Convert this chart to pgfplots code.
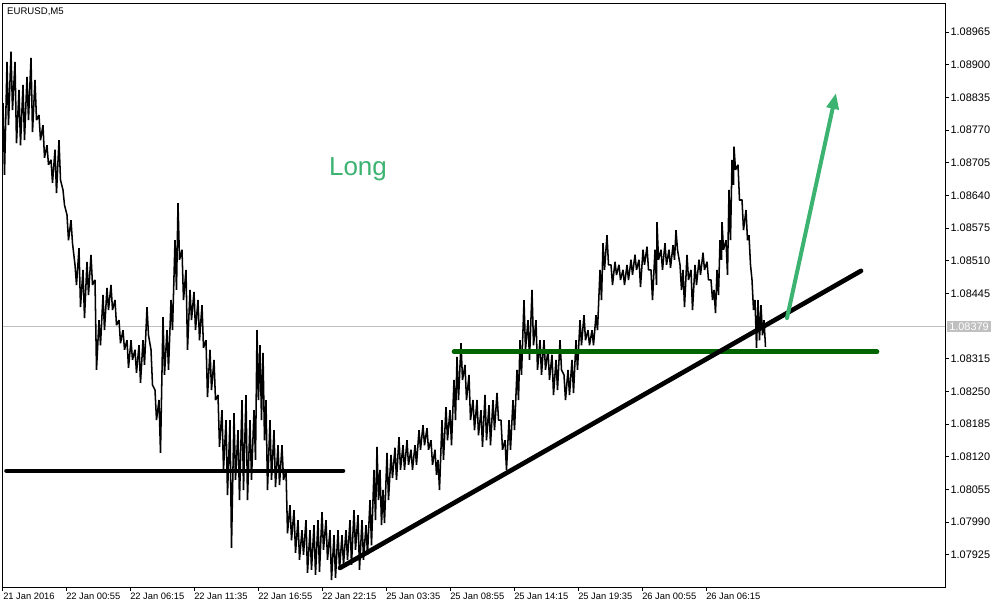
\documentclass[border=0pt]{standalone}
\usepackage{pgfplots}
\pgfplotsset{compat=1.18}
\usepackage{fontspec}
\setmainfont{Liberation Sans}
\usetikzlibrary{arrows.meta}
\definecolor{lgreen}{RGB}{60,179,113}
\definecolor{dgreen}{RGB}{0,100,0}
\definecolor{pgray}{RGB}{192,192,192}
\begin{document}
\begin{tikzpicture}
\fill[white] (-2.25pt,-15.75pt) rectangle (746.25pt,440.25pt);
\path[use as bounding box] (-2.25pt,-15.75pt) rectangle (746.25pt,440.25pt);
\begin{axis}[
  at={(0pt,0pt)}, anchor=south west,
  scale only axis, width=706.5pt, height=438pt,
  xmin=3, xmax=945, ymin=1.07861, ymax=1.09023,
  clip=false,
  axis line style={black, line width=0.75pt},
  tick align=outside,
  major tick length=3pt,
  tick style={black, line width=0.75pt},
  xtick pos=bottom,
  ytick pos=right,
  yticklabel pos=right,
  scaled y ticks=false,
  xtick={3,66,130,194,258,322,386,450,514,578,642,706},
  xticklabels={21 Jan 2016,22 Jan 00:55,22 Jan 06:15,22 Jan 11:35,22 Jan 16:55,22 Jan 22:15,25 Jan 03:35,25 Jan 08:55,25 Jan 14:15,25 Jan 19:35,26 Jan 00:55,26 Jan 06:15},
  ytick={1.07925,1.07990,1.08055,1.08120,1.08185,1.08250,1.08315,1.08445,1.08510,1.08575,1.08640,1.08705,1.08770,1.08835,1.08900,1.08965},
  xticklabel style={anchor=north west, inner sep=0pt, yshift=-1.5pt, font=\fontsize{7}{8}\selectfont},
  yticklabel style={anchor=west, inner sep=0pt, xshift=1pt, font=\fontsize{8.2}{9}\selectfont,
    /pgf/number format/.cd, fixed, fixed zerofill, precision=5, assume math mode=true, /tikz/.cd},
]
\addplot[pgray, line width=0.75pt] coordinates {(3,1.08379) (945,1.08379)};
\addplot[black, line width=1.15pt, line join=bevel] table {
x y
3 1.08824
4.5 1.08681
7 1.08906
8.5 1.08780
11 1.08926
12.5 1.08810
15 1.08906
16.5 1.08744
19 1.08850
20.5 1.08740
23 1.08860
24.5 1.08750
27 1.08876
28.5 1.08790
31 1.08914
32.5 1.08766
35 1.08870
36.5 1.08790
39 1.08800
40.5 1.08750
43 1.08780
44.5 1.08715
47 1.08740
48.5 1.08701
51 1.08711
52.5 1.08665
55 1.08731
56.5 1.08645
59 1.08750
60.5 1.08671
63 1.08651
64.5 1.08621
67 1.08601
68.5 1.08551
71 1.08591
72.5 1.08545
75 1.08502
76.5 1.08462
79 1.08535
80.5 1.08418
83 1.08492
84.5 1.08396
87 1.08508
88.5 1.08442
91 1.08522
92.5 1.08462
95 1.08472
96.5 1.08293
99 1.08392
100.5 1.08342
103 1.08442
104.5 1.08372
107 1.08456
108.5 1.08412
111 1.08462
112.5 1.08412
115 1.08432
116.5 1.08382
119 1.08392
120.5 1.08346
123 1.08372
124.5 1.08333
127 1.08352
128.5 1.08297
131 1.08352
132.5 1.08313
135 1.08333
136.5 1.08287
139 1.08342
140.5 1.08267
143 1.08352
144.5 1.08303
147 1.08418
148.5 1.08362
151 1.08333
152.5 1.08263
155 1.08253
156.5 1.08193
159 1.08233
160.5 1.08128
163 1.08398
164.5 1.08283
167 1.08372
168.5 1.08293
171 1.08432
172.5 1.08372
175 1.08551
176.5 1.08452
178 1.08625
179.5 1.08512
182 1.08532
183.5 1.08432
186 1.08492
187.5 1.08333
190 1.08452
191.5 1.08392
194 1.08448
195.5 1.08372
198 1.08432
199.5 1.08352
202 1.08422
203.5 1.08337
206 1.08352
207.5 1.08239
210 1.08333
211.5 1.08253
214 1.08313
215.5 1.08233
218 1.08243
219.5 1.08140
222 1.08213
223.5 1.08094
226 1.08193
227.5 1.08044
230 1.08193
231.5 1.07939
234 1.08207
235.5 1.08074
238 1.08173
239.5 1.08034
242 1.08233
243.5 1.08054
246 1.08243
247.5 1.08034
250 1.08193
251.5 1.08074
254 1.08213
255.5 1.08114
257 1.08372
258.5 1.08233
260 1.08342
261.5 1.08193
263 1.08327
264.5 1.08153
266 1.08233
267.5 1.08054
270 1.08193
271.5 1.08074
274 1.08173
275.5 1.08060
278 1.08143
279.5 1.08064
282 1.08143
283.5 1.08074
286 1.08094
287.5 1.07968
290 1.08024
291.5 1.07954
294 1.08014
295.5 1.07929
298 1.07994
299.5 1.07915
302 1.07974
303.5 1.07925
306 1.07994
307.5 1.07889
310 1.07974
311.5 1.07895
314 1.07984
315.5 1.07885
318 1.07994
319.5 1.07891
322 1.08010
323.5 1.07935
326 1.07994
327.5 1.07915
330 1.07974
331.5 1.07875
334 1.07964
335.5 1.07879
338 1.07974
339.5 1.07895
342 1.07964
343.5 1.07905
346 1.07974
347.5 1.07915
350 1.07994
351.5 1.07905
354 1.08014
355.5 1.07935
358 1.08004
359.5 1.07895
362 1.07994
363.5 1.07915
366 1.07984
367.5 1.07925
370 1.08034
371.5 1.07944
374 1.08094
375.5 1.07994
377 1.08140
378.5 1.08034
380 1.08094
381.5 1.07984
383 1.08054
384.5 1.07988
387 1.08128
388.5 1.08034
391 1.08124
392.5 1.08078
395 1.08138
396.5 1.08074
399 1.08159
400.5 1.08094
403 1.08143
404.5 1.08094
407 1.08153
408.5 1.08104
411 1.08134
412.5 1.08094
415 1.08143
416.5 1.08104
419 1.08173
420.5 1.08134
423 1.08183
424.5 1.08143
427 1.08177
428.5 1.08134
431 1.08153
432.5 1.08104
435 1.08134
436.5 1.08084
438 1.08114
439.5 1.08054
442 1.08193
443.5 1.08114
446 1.08219
447.5 1.08153
450 1.08213
451.5 1.08143
454 1.08273
455.5 1.08193
457 1.08319
458.5 1.08233
461 1.08346
462.5 1.08273
465 1.08303
466.5 1.08233
469 1.08283
470.5 1.08193
473 1.08233
474.5 1.08173
477 1.08233
478.5 1.08163
481 1.08213
482.5 1.08140
485 1.08243
486.5 1.08153
489 1.08223
490.5 1.08143
493 1.08233
494.5 1.08173
497 1.08247
498.5 1.08193
501 1.08193
502.5 1.08134
505 1.08153
506.5 1.08094
509 1.08193
510.5 1.08134
513 1.08233
514.5 1.08173
517 1.08293
518.5 1.08233
520 1.08352
521.5 1.08283
524 1.08432
525.5 1.08333
528 1.08392
529.5 1.08313
532 1.08452
533.5 1.08342
536 1.08392
537.5 1.08293
540 1.08352
541.5 1.08283
544 1.08352
545.5 1.08293
548 1.08333
549.5 1.08273
552 1.08323
553.5 1.08243
556 1.08313
557.5 1.08253
560 1.08352
561.5 1.08293
564 1.08283
565.5 1.08233
568 1.08293
569.5 1.08243
572 1.08313
573.5 1.08247
576 1.08352
577.5 1.08293
580 1.08392
581.5 1.08342
584 1.08402
585.5 1.08352
588 1.08372
589.5 1.08342
592 1.08372
593.5 1.08342
596 1.08402
597.5 1.08372
600 1.08492
601.5 1.08432
603 1.08545
604.5 1.08492
607 1.08561
608.5 1.08502
611 1.08502
612.5 1.08462
615 1.08508
616.5 1.08482
619 1.08502
620.5 1.08472
623 1.08492
624.5 1.08462
627 1.08502
628.5 1.08472
631 1.08512
632.5 1.08482
635 1.08522
636.5 1.08492
639 1.08512
640.5 1.08458
643 1.08532
644.5 1.08502
647 1.08538
648.5 1.08492
651 1.08492
652.5 1.08432
655 1.08532
656.5 1.08462
657 1.08587
658.5 1.08512
661 1.08532
662.5 1.08492
665 1.08545
666.5 1.08502
669 1.08532
670.5 1.08496
673 1.08541
674.5 1.08512
676 1.08571
677.5 1.08532
680 1.08502
681.5 1.08452
683 1.08492
684.5 1.08418
687 1.08522
688.5 1.08472
691 1.08492
692.5 1.08412
695 1.08502
696.5 1.08462
699 1.08512
700.5 1.08482
703 1.08526
704.5 1.08492
707 1.08508
708.5 1.08472
711 1.08472
712.5 1.08432
714 1.08452
715.5 1.08406
717 1.08492
718.5 1.08442
720 1.08551
721.5 1.08512
722 1.08587
723.5 1.08532
726 1.08551
727.5 1.08482
729 1.08651
730.5 1.08551
732 1.08711
733.5 1.08661
734 1.08737
735.5 1.08691
738 1.08701
739.5 1.08631
742 1.08631
743.5 1.08571
746 1.08611
747.5 1.08551
749 1.08561
750.5 1.08502
752 1.08472
753.5 1.08412
755 1.08432
756.5 1.08337
758 1.08432
759.5 1.08352
761 1.08422
762.5 1.08362
764 1.08392
765.5 1.08339
};
\addplot[black, line width=3.5pt, line cap=round] coordinates {(6.5,1.08092) (343,1.08092)};
\addplot[dgreen, line width=3.5pt, line cap=round] coordinates {(454,1.08329) (877,1.08329)};
\addplot[black, line width=3.5pt, line cap=round] coordinates {(340,1.07899) (861,1.08490)};
\addplot[lgreen, line width=3pt, line cap=round, -{Triangle[length=12pt,width=9pt]}] coordinates {(787,1.08396) (836,1.08844)};
\node[anchor=north west, inner sep=0pt, font=\fontsize{7.2}{8}\selectfont] at (rel axis cs:0.0042,0.993) {EURUSD,M5};
\node[text=lgreen, font=\fontsize{19.5}{22}\selectfont] at (axis cs:358,1.08693) {Long};
\node[anchor=west, fill=pgray, text=white, inner xsep=1.5pt, inner ysep=1pt, xshift=1.5pt, font=\fontsize{8.2}{9}\selectfont] at (axis cs:945,1.08379) {1.08379};
\end{axis}
\end{tikzpicture}
\end{document}
